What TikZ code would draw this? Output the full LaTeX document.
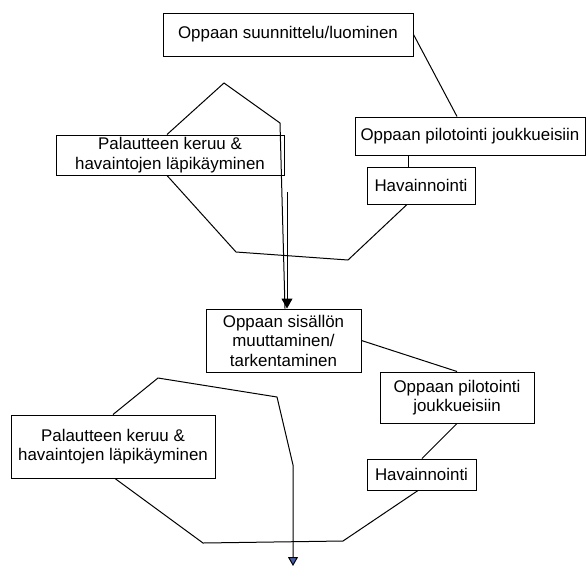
\documentclass[tikz,border=0pt]{standalone}
\usepackage{fontspec}
\setmainfont{Liberation Sans}
\usetikzlibrary{arrows.meta,
                positioning}
\definecolor{tipblue}{HTML}{4A5FA8}
\tikzset{step-box/.style=
   {rectangle,
    draw,
    line width=1pt,
    align=center,
    inner sep=0pt,
    font=\fontsize{16.9}{19.5}\selectfont}}
\tikzset{link/.style = {draw, line width=1pt}}
\tikzset{arrow/.style = {link, -{Triangle[width=11pt,length=10pt]}}}
\tikzset{arrow-blue/.style = {link, -{Triangle[width=10pt,length=9pt,fill=tipblue]}}}

\begin{document}
\begin{tikzpicture}[x=1pt,y=-1pt,auto]
    \useasboundingbox (0,0) rectangle (586,566);

    % first round
    \node [step-box,
           minimum width=250pt,
           minimum height=43pt] (plan) at (288,34.5) {Oppaan suunnittelu/luominen};

    \node [step-box,
           minimum width=230pt,
           minimum height=38pt] (pilotA) at (470,136) {Oppaan pilotointi joukkueisiin};

    \node [step-box,
           minimum width=108pt,
           minimum height=37pt] (obsA) at (421,185.5) {Havainnointi};

    \node [step-box,
           minimum width=228pt,
           minimum height=40pt] (feedA) at (170,155) {Palautteen keruu \&\\havaintojen läpikäyminen};

    % second round
    \node [step-box,
           minimum width=155pt,
           minimum height=63pt] (revise) at (283.5,340.5) {Oppaan sisällön\\muuttaminen/\\tarkentaminen};

    \node [step-box,
           minimum width=154pt,
           minimum height=51pt] (pilotB) at (457,397.5) {Oppaan pilotointi\\joukkueisiin};

    \node [step-box,
           minimum width=109pt,
           minimum height=31pt] (obsB) at (421.5,474.5) {Havainnointi};

    \node [step-box,
           minimum width=204pt,
           minimum height=63pt] (feedB) at (113,446.5) {Palautteen keruu \&\\havaintojen läpikäyminen};

    \coordinate (arrowstart) at (287,192);
    \coordinate (end) at (293,566);

    % connectors
    \path [link] (plan.east) -- ([xshift=-13pt]pilotA.north);
    \path [link] ([xshift=-62pt]pilotA.south) -- ([xshift=-13pt]obsA.north);
    \path [link] ([xshift=-14pt]obsA.south) -- (348,260) -- (236,252) -- ([xshift=-3pt]feedA.south);
    \path [link] ([xshift=-3pt]feedA.north) -- (224,83) -- (280,123) -- ([xshift=1.5pt]revise.north);
    \path [arrow] (arrowstart) -- ([xshift=3.5pt]revise.north);

    \path [link] (revise.east) -- (pilotB.north);
    \path [link] (pilotB.south) -- ([xshift=0.5pt]obsB.north);
    \path [link] ([xshift=-3.5pt]obsB.south) -- (343,541) -- (203,543) -- ([xshift=2pt]feedB.south);
    \path [arrow-blue] (feedB.north) -- (158,378) -- (277,397) -- (293,465) -- (end);

\end{tikzpicture}
\end{document}
